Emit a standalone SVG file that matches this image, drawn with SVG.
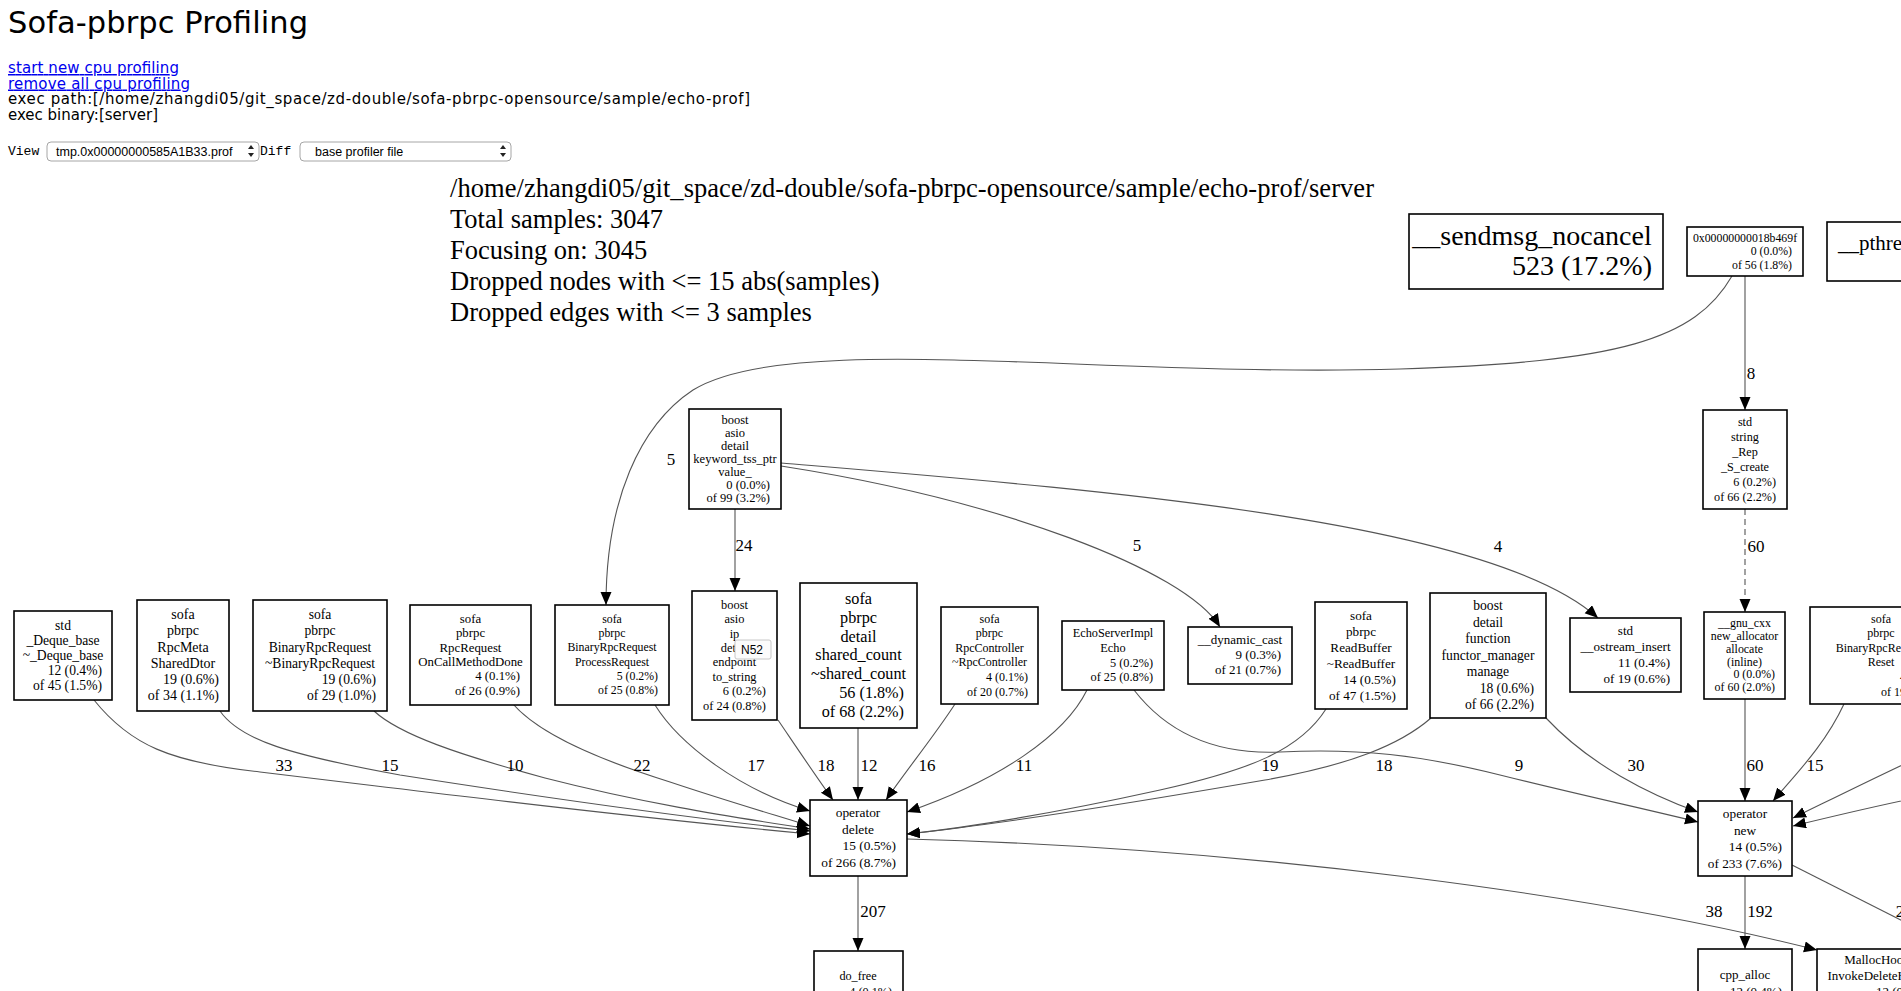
<svg xmlns="http://www.w3.org/2000/svg" width="1901" height="991" viewBox="0 0 1901 991">
<style>
text{font-family:"Liberation Serif","Times New Roman",serif;fill:#000}
.c{text-anchor:middle}
.r{text-anchor:end}
.n rect{fill:#fff;stroke:#000;stroke-width:1.6}
.e path{fill:none;stroke:#555;stroke-width:1.1}
.e text{font-size:17px;text-anchor:middle}
.hd{font-family:"DejaVu Sans","Liberation Sans",Arial,sans-serif}
.ui{font-family:"Liberation Sans",Arial,sans-serif}
.lk{fill:#0000ee;text-decoration:underline}
.mono{font-family:"Liberation Mono","Courier New",monospace;font-size:13px}
.sel{fill:#fff;stroke:#a6a6a6;stroke-width:1}
.gl{font-size:26.5px}
</style>
<defs>
<marker id="ah" markerUnits="userSpaceOnUse" markerWidth="14" markerHeight="12" refX="13" refY="5.5" orient="auto"><path d="M0,0 L13,5.5 L0,11 z" fill="#000"/></marker>
</defs>
<rect x="0" y="0" width="1901" height="991" fill="#fff"/>

<g id="header">
<text class="hd" x="8" y="33" font-size="30.5" textLength="300">Sofa-pbrpc Profiling</text>
<text class="hd lk" x="8" y="73" font-size="15" textLength="171">start new cpu profiling</text>
<text class="hd lk" x="8" y="88.5" font-size="15" textLength="182">remove all cpu profiling</text>
<text class="hd" x="8" y="104" font-size="15" textLength="742">exec path:[/home/zhangdi05/git_space/zd-double/sofa-pbrpc-opensource/sample/echo-prof]</text>
<text class="hd" x="8" y="119.5" font-size="15" textLength="150">exec binary:[server]</text>
<text class="mono" x="8" y="155">View</text>
<rect class="sel" x="47" y="142" width="212" height="19" rx="4"/>
<text class="ui" x="56" y="155.5" font-size="12.5">tmp.0x00000000585A1B33.prof</text>
<path d="M248,149 L251,145 L254,149 z M248,153 L251,157 L254,153 z" fill="#222"/>
<text class="mono" x="260" y="155">Diff</text>
<rect class="sel" x="300" y="142" width="211" height="19" rx="4"/>
<text class="ui" x="315" y="155.5" font-size="12.5">base profiler file</text>
<path d="M500,149 L503,145 L506,149 z M500,153 L503,157 L506,153 z" fill="#222"/>
</g>

<g id="graph-label" class="gl">
<text x="450" y="197" textLength="924">/home/zhangdi05/git_space/zd-double/sofa-pbrpc-opensource/sample/echo-prof/server</text>
<text x="450" y="228">Total samples: 3047</text>
<text x="450" y="259">Focusing on: 3045</text>
<text x="450" y="290">Dropped nodes with &lt;= 15 abs(samples)</text>
<text x="450" y="321">Dropped edges with &lt;= 3 samples</text>
</g>

<g id="connectors" class="e">
<path marker-end="url(#ah)" d="M1732,276 C1695,340 1620,362 1400,369 C1100,378 790,330 693,390 C640,425 606,500 606,605"/>
<text x="671" y="465">5</text>
<path marker-end="url(#ah)" d="M735,509 L735,591"/>
<text x="744" y="551">24</text>
<path marker-end="url(#ah)" d="M781,466 C1000,500 1185,570 1220,627"/>
<text x="1137" y="551">5</text>
<path marker-end="url(#ah)" d="M781,463 C1100,490 1490,520 1598,618"/>
<text x="1498" y="552">4</text>
<path marker-end="url(#ah)" d="M1745,276 L1745,410"/>
<text x="1751" y="379">8</text>
<path marker-end="url(#ah)" stroke-dasharray="6,4" d="M1745,509 L1745,612"/>
<text x="1756" y="552">60</text>
<path marker-end="url(#ah)" d="M1745,699 L1745,801"/>
<text x="1755" y="771">60</text>
<path marker-end="url(#ah)" d="M1844,704 C1825,745 1795,775 1773,801"/>
<text x="1815" y="771">15</text>
<path marker-end="url(#ah)" d="M1930,752 C1880,775 1830,800 1793,818"/>
<path marker-end="url(#ah)" d="M1930,795 C1880,805 1830,817 1793,826"/>
<path marker-end="url(#ah)" d="M1792,865 L1940,940"/>
<text x="1900" y="917">2</text>
<path marker-end="url(#ah)" d="M1745,876 L1745,949"/>
<text x="1760" y="917">192</text>
<path marker-end="url(#ah)" d="M907,839 C1250,848 1600,895 1817,950"/>
<text x="1714" y="917">38</text>
<path marker-end="url(#ah)" d="M858,876 L858,951"/>
<text x="873" y="917">207</text>
<path marker-end="url(#ah)" d="M94,700 C130,745 170,762 260,772 C450,795 640,818 810,834"/>
<text x="284" y="771">33</text>
<path marker-end="url(#ah)" d="M220,711 C240,740 290,755 400,775 C560,800 690,818 810,831"/>
<text x="390" y="771">15</text>
<path marker-end="url(#ah)" d="M374,711 C400,735 460,755 545,778 C650,805 740,818 810,829"/>
<text x="515" y="771">10</text>
<path marker-end="url(#ah)" d="M513,704 C540,735 600,760 670,782 C730,802 775,815 810,826"/>
<text x="642" y="771">22</text>
<path marker-end="url(#ah)" d="M655,705 C680,745 740,790 810,811"/>
<text x="756" y="771">17</text>
<path marker-end="url(#ah)" d="M778,720 C795,745 815,775 833,800"/>
<text x="826" y="771">18</text>
<path marker-end="url(#ah)" d="M858,728 L858,800"/>
<text x="869" y="771">12</text>
<path marker-end="url(#ah)" d="M955,704 C935,735 905,772 886,800"/>
<text x="927" y="771">16</text>
<path marker-end="url(#ah)" d="M1087,690 C1065,735 1000,780 907,812"/>
<text x="1024" y="771">11</text>
<path marker-end="url(#ah)" d="M1326,709 C1300,750 1250,770 1160,790 C1060,812 980,826 907,834"/>
<text x="1270" y="771">19</text>
<path marker-end="url(#ah)" d="M1431,718 C1400,745 1350,765 1265,780 C1120,805 990,825 907,834"/>
<text x="1384" y="771">18</text>
<path marker-end="url(#ah)" d="M1134,690 C1165,730 1210,755 1280,752 C1360,748 1420,755 1500,775 C1580,795 1650,810 1698,822"/>
<text x="1519" y="771">9</text>
<path marker-end="url(#ah)" d="M1546,718 C1590,765 1650,795 1698,812"/>
<text x="1636" y="771">30</text>
</g>

<g id="n_sendmsg" class="n" font-size="28">
<rect x="1409" y="214" width="254" height="75"/>
<text class="c" x="1532" y="245">__sendmsg_nocancel</text>
<text class="r" x="1652" y="275">523 (17.2%)</text>
</g>
<g id="n_0x18b469f" class="n" font-size="11.8">
<rect x="1687" y="227" width="116" height="49"/>
<text class="c" x="1745" y="241.5">0x00000000018b469f</text>
<text class="r" x="1792" y="255">0 (0.0%)</text>
<text class="r" x="1792" y="268.5">of 56 (1.8%)</text>
</g>
<g id="n_pthread" class="n" font-size="21">
<rect x="1827" y="222" width="140" height="59"/>
<text x="1838" y="250">__pthrea</text>
</g>
<g id="n_keyword_tss_ptr" class="n" font-size="12.5">
<rect x="689" y="409" width="92" height="100"/>
<text class="c" x="735" y="423.8">boost</text>
<text class="c" x="735" y="436.8">asio</text>
<text class="c" x="735" y="449.8">detail</text>
<text class="c" x="735" y="462.8">keyword_tss_ptr</text>
<text class="c" x="735" y="475.8">value_</text>
<text class="r" x="770" y="488.8">0 (0.0%)</text>
<text class="r" x="770" y="501.8">of 99 (3.2%)</text>
</g>
<g id="n_S_create" class="n" font-size="12.2">
<rect x="1703" y="410" width="84" height="99"/>
<text class="c" x="1745" y="425.7">std</text>
<text class="c" x="1745" y="440.7">string</text>
<text class="c" x="1745" y="455.7">_Rep</text>
<text class="c" x="1745" y="470.7">_S_create</text>
<text class="r" x="1776" y="485.7">6 (0.2%)</text>
<text class="r" x="1776" y="500.7">of 66 (2.2%)</text>
</g>
<g id="n_Deque_base" class="n" font-size="13.6">
<rect x="14" y="611" width="98" height="89"/>
<text class="c" x="63" y="629.6">std</text>
<text class="c" x="63" y="644.6">_Deque_base</text>
<text class="c" x="63" y="659.6">~_Deque_base</text>
<text class="r" x="102" y="674.6">12 (0.4%)</text>
<text class="r" x="102" y="689.6">of 45 (1.5%)</text>
</g>
<g id="n_SharedDtor" class="n" font-size="14">
<rect x="137" y="600" width="92" height="111"/>
<text class="c" x="183" y="619.2">sofa</text>
<text class="c" x="183" y="635.4">pbrpc</text>
<text class="c" x="183" y="651.6">RpcMeta</text>
<text class="c" x="183" y="667.8">SharedDtor</text>
<text class="r" x="219" y="684">19 (0.6%)</text>
<text class="r" x="219" y="700.2">of 34 (1.1%)</text>
</g>
<g id="n_BinaryRpcRequest_dtor" class="n" font-size="13.6">
<rect x="253" y="600" width="134" height="111"/>
<text class="c" x="320" y="619.1">sofa</text>
<text class="c" x="320" y="635.3">pbrpc</text>
<text class="c" x="320" y="651.5">BinaryRpcRequest</text>
<text class="c" x="320" y="667.7">~BinaryRpcRequest</text>
<text class="r" x="376" y="683.9">19 (0.6%)</text>
<text class="r" x="376" y="700.1">of 29 (1.0%)</text>
</g>
<g id="n_OnCallMethodDone" class="n" font-size="12.8">
<rect x="410" y="605" width="121" height="100"/>
<text class="c" x="470.5" y="623">sofa</text>
<text class="c" x="470.5" y="637.4">pbrpc</text>
<text class="c" x="470.5" y="651.7">RpcRequest</text>
<text class="c" x="470.5" y="666">OnCallMethodDone</text>
<text class="r" x="520" y="680.3">4 (0.1%)</text>
<text class="r" x="520" y="694.6">of 26 (0.9%)</text>
</g>
<g id="n_ProcessRequest" class="n" font-size="11.8">
<rect x="555" y="605" width="114" height="100"/>
<text class="c" x="612" y="622.8">sofa</text>
<text class="c" x="612" y="637.1">pbrpc</text>
<text class="c" x="612" y="651.4">BinaryRpcRequest</text>
<text class="c" x="612" y="665.7">ProcessRequest</text>
<text class="r" x="658" y="680">5 (0.2%)</text>
<text class="r" x="658" y="694.3">of 25 (0.8%)</text>
</g>
<g id="n_to_string" class="n" font-size="12.4">
<rect x="692" y="591" width="85" height="129"/>
<text class="c" x="734.5" y="608.8">boost</text>
<text class="c" x="734.5" y="623.2">asio</text>
<text class="c" x="734.5" y="637.6">ip</text>
<text class="c" x="734.5" y="652">detail</text>
<text class="c" x="734.5" y="666.4">endpoint</text>
<text class="c" x="734.5" y="680.8">to_string</text>
<text class="r" x="766" y="695.2">6 (0.2%)</text>
<text class="r" x="766" y="709.6">of 24 (0.8%)</text>
</g>
<g id="n_shared_count" class="n" font-size="16.2">
<rect x="800" y="583" width="117" height="145"/>
<text class="c" x="858.5" y="604.3">sofa</text>
<text class="c" x="858.5" y="623">pbrpc</text>
<text class="c" x="858.5" y="641.7">detail</text>
<text class="c" x="858.5" y="660.4">shared_count</text>
<text class="c" x="858.5" y="679.1">~shared_count</text>
<text class="r" x="904" y="697.8">56 (1.8%)</text>
<text class="r" x="904" y="716.5">of 68 (2.2%)</text>
</g>
<g id="n_RpcController" class="n" font-size="12">
<rect x="941" y="607" width="97" height="97"/>
<text class="c" x="989.5" y="622.6">sofa</text>
<text class="c" x="989.5" y="637.2">pbrpc</text>
<text class="c" x="989.5" y="651.8">RpcController</text>
<text class="c" x="989.5" y="666.4">~RpcController</text>
<text class="r" x="1028" y="681">4 (0.1%)</text>
<text class="r" x="1028" y="695.6">of 20 (0.7%)</text>
</g>
<g id="n_Echo" class="n" font-size="12.3">
<rect x="1062" y="621" width="102" height="69"/>
<text class="c" x="1113" y="637.2">EchoServerImpl</text>
<text class="c" x="1113" y="651.9">Echo</text>
<text class="r" x="1153" y="666.6">5 (0.2%)</text>
<text class="r" x="1153" y="681.3">of 25 (0.8%)</text>
</g>
<g id="n_dynamic_cast" class="n" font-size="13">
<rect x="1188" y="627" width="104" height="57"/>
<text class="c" x="1240" y="644.4">__dynamic_cast</text>
<text class="r" x="1281" y="659.4">9 (0.3%)</text>
<text class="r" x="1281" y="674.4">of 21 (0.7%)</text>
</g>
<g id="n_ReadBuffer" class="n" font-size="13.2">
<rect x="1315" y="602" width="92" height="107"/>
<text class="c" x="1361" y="619.5">sofa</text>
<text class="c" x="1361" y="635.5">pbrpc</text>
<text class="c" x="1361" y="651.5">ReadBuffer</text>
<text class="c" x="1361" y="667.5">~ReadBuffer</text>
<text class="r" x="1396" y="683.5">14 (0.5%)</text>
<text class="r" x="1396" y="699.5">of 47 (1.5%)</text>
</g>
<g id="n_functor_manager" class="n" font-size="13.6">
<rect x="1430" y="593" width="116" height="125"/>
<text class="c" x="1488" y="610.1">boost</text>
<text class="c" x="1488" y="626.6">detail</text>
<text class="c" x="1488" y="643.1">function</text>
<text class="c" x="1488" y="659.6">functor_manager</text>
<text class="c" x="1488" y="676.1">manage</text>
<text class="r" x="1534" y="692.6">18 (0.6%)</text>
<text class="r" x="1534" y="709.1">of 66 (2.2%)</text>
</g>
<g id="n_ostream_insert" class="n" font-size="13.1">
<rect x="1570" y="618" width="111" height="74"/>
<text class="c" x="1625.5" y="635.4">std</text>
<text class="c" x="1625.5" y="651.1">__ostream_insert</text>
<text class="r" x="1670" y="666.8">11 (0.4%)</text>
<text class="r" x="1670" y="682.5">of 19 (0.6%)</text>
</g>
<g id="n_allocate" class="n" font-size="11.9">
<rect x="1704" y="612" width="81" height="87"/>
<text class="c" x="1744.5" y="627.1">__gnu_cxx</text>
<text class="c" x="1744.5" y="639.9">new_allocator</text>
<text class="c" x="1744.5" y="652.7">allocate</text>
<text class="c" x="1744.5" y="665.5">(inline)</text>
<text class="r" x="1775" y="678.3">0 (0.0%)</text>
<text class="r" x="1775" y="691.1">of 60 (2.0%)</text>
</g>
<g id="n_Reset" class="n" font-size="12">
<rect x="1810" y="607" width="142" height="97"/>
<text class="c" x="1881" y="622.6">sofa</text>
<text class="c" x="1881" y="637.2">pbrpc</text>
<text class="c" x="1881" y="651.8">BinaryRpcRequest</text>
<text class="c" x="1881" y="666.4">Reset</text>
<text class="r" x="1942" y="681">4 (0.1%)</text>
<text class="r" x="1942" y="695.6">of 19 (0.6%)</text>
</g>
<g id="n_operator_delete" class="n" font-size="13.4">
<rect x="810" y="800" width="97" height="76"/>
<text class="c" x="858" y="817">operator</text>
<text class="c" x="858" y="833.5">delete</text>
<text class="r" x="896" y="850">15 (0.5%)</text>
<text class="r" x="896" y="866.7">of 266 (8.7%)</text>
</g>
<g id="n_operator_new" class="n" font-size="13.3">
<rect x="1698" y="801" width="94" height="75"/>
<text class="c" x="1745" y="818">operator</text>
<text class="c" x="1745" y="834.5">new</text>
<text class="r" x="1782" y="851">14 (0.5%)</text>
<text class="r" x="1782" y="867.5">of 233 (7.6%)</text>
</g>
<g id="n_do_free" class="n" font-size="12.2">
<rect x="814" y="951" width="89" height="70"/>
<text class="c" x="858" y="980">do_free</text>
<text class="r" x="892" y="996">4 (0.1%)</text>
</g>
<g id="n_cpp_alloc" class="n" font-size="13">
<rect x="1698" y="949" width="94" height="70"/>
<text class="c" x="1745" y="979">cpp_alloc</text>
<text class="r" x="1782" y="996">12 (0.4%)</text>
</g>
<g id="n_InvokeDeleteHook" class="n" font-size="13">
<rect x="1817" y="949" width="122" height="70"/>
<text class="c" x="1877" y="964">MallocHook</text>
<text class="c" x="1877" y="980">InvokeDeleteHook</text>
<text class="r" x="1928" y="996">12 (0.4%)</text>
</g>

<g id="tooltip">
<rect x="735" y="640" width="36" height="19" rx="2" fill="#fbfbfb" stroke="#c8c8c8" stroke-width="1"/>
<text class="ui" x="741" y="654" font-size="12" fill="#222">N52</text>
</g>
</svg>
